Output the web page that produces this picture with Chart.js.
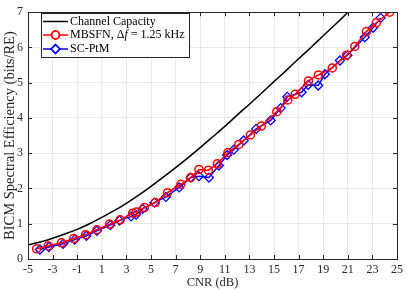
<!DOCTYPE html>
<html>
<head>
<meta charset="utf-8">
<script src="https://cdn.jsdelivr.net/npm/chart.js@4/dist/chart.umd.min.js"></script>
<style>
  html, body { margin: 0; padding: 0; background: #fff; }
  #wrap { width: 407px; height: 292px; }
</style>
</head>
<body>
<div id="wrap"><canvas id="c" width="407" height="292"></canvas></div>
<script>
// channel capacity curve
const capX = [-5, -4, -3, -2, -1, 0, 1, 2, 3, 4, 5, 6, 7, 8, 9, 10, 11, 12, 13, 14, 15, 16, 17, 18, 19, 20, 21, 22];
const capY = [0.40, 0.48, 0.59, 0.71, 0.84, 1.00, 1.18, 1.37, 1.58, 1.81, 2.06, 2.32, 2.59, 2.87, 3.16, 3.46, 3.76, 4.08, 4.39, 4.71, 5.03, 5.35, 5.68, 6.00, 6.33, 6.66, 6.99, 7.32];

// MBSFN, delta f = 1.25 kHz
const mbsfnX = [-4.3, -3.36, -2.28, -1.28, -0.31, 0.6, 1.63, 2.49, 3.51, 3.81, 4.46, 5.35, 6.34, 7.42, 8.23, 8.9, 9.66, 10.39, 11.25, 12.14, 13.08, 13.97, 15.23, 16.12, 16.72, 17.8, 18.61, 19.74, 20.89, 21.57, 22.51, 23.32, 24.4];
const mbsfnY = [0.29, 0.37, 0.46, 0.58, 0.69, 0.83, 0.99, 1.11, 1.30, 1.33, 1.46, 1.60, 1.88, 2.12, 2.31, 2.54, 2.52, 2.70, 3.02, 3.25, 3.52, 3.77, 4.18, 4.51, 4.67, 5.05, 5.22, 5.42, 5.78, 6.03, 6.45, 6.70, 7.00];

// SC-PtM
const scptmX = [-4.03, -3.3, -2.15, -1.2, -0.25, 0.6, 1.69, 2.44, 3.38, 3.79, 4.32, 5.27, 6.21, 7.29, 8.23, 8.9, 9.71, 10.52, 11.19, 11.73, 12.54, 13.55, 14.73, 15.54, 16.08, 17.24, 17.78, 18.59, 19.14, 20.36, 20.97, 22.38, 23.05, 23.67];
const scptmY = [0.27, 0.34, 0.43, 0.55, 0.66, 0.80, 0.96, 1.09, 1.21, 1.26, 1.42, 1.60, 1.76, 2.03, 2.31, 2.35, 2.31, 2.65, 2.95, 3.10, 3.36, 3.69, 3.93, 4.28, 4.60, 4.73, 4.94, 4.92, 5.24, 5.63, 5.78, 6.29, 6.56, 6.84];

const xTicks = [-5, -3, -1, 1, 3, 5, 7, 9, 11, 13, 15, 17, 19, 21, 23, 25];
const yTicks = [0, 1, 2, 3, 4, 5, 6, 7];

const FONT = "'Liberation Serif', 'DejaVu Serif', serif";
const AXIS = '#262626';

function pts(xs, ys) { return xs.map((x, i) => ({ x: x, y: ys[i] })); }

// inward ticks on all four sides + box
const boxTicks = {
  id: 'boxTicks',
  afterDatasetsDraw(chart) {
    const ctx = chart.ctx, a = chart.chartArea;
    const xs = chart.scales.x, ys = chart.scales.y;
    ctx.save();
    ctx.strokeStyle = AXIS;
    ctx.lineWidth = 1;
    ctx.beginPath();
    xTicks.forEach(v => {
      const p = Math.round(xs.getPixelForValue(v)) + 0.5;
      ctx.moveTo(p, a.bottom); ctx.lineTo(p, a.bottom - 4);
      ctx.moveTo(p, a.top); ctx.lineTo(p, a.top + 4);
    });
    yTicks.forEach(v => {
      const p = Math.round(ys.getPixelForValue(v)) + 0.5;
      ctx.moveTo(a.left, p); ctx.lineTo(a.left + 4, p);
      ctx.moveTo(a.right, p); ctx.lineTo(a.right - 4, p);
    });
    ctx.stroke();
    ctx.strokeRect(Math.round(a.left) + 0.5, Math.round(a.top) + 0.5,
      Math.round(a.right - a.left), Math.round(a.bottom - a.top));
    ctx.restore();
  }
};

// legend box, MATLAB style
const legendBox = {
  id: 'legendBox',
  afterDraw(chart) {
    const ctx = chart.ctx;
    const L = 41, T = 13, W = 148, H = 44;
    ctx.save();
    ctx.fillStyle = '#fff';
    ctx.fillRect(L, T, W, H);
    ctx.strokeStyle = AXIS;
    ctx.lineWidth = 1;
    ctx.strokeRect(L + 0.5, T + 0.5, W, H);
    const rows = [21.5, 35, 49];
    chart.data.datasets.forEach((ds, i) => {
      const y = rows[i];
      ctx.strokeStyle = ds.borderColor;
      ctx.lineWidth = ds.borderWidth;
      ctx.beginPath(); ctx.moveTo(43, y); ctx.lineTo(68, y); ctx.stroke();
      if (ds.pointRadius > 0) {
        ctx.fillStyle = '#fff';
        Chart.helpers.drawPoint(ctx, {
          pointStyle: ds.pointStyle, radius: ds.pointRadius, borderWidth: ds.pointBorderWidth
        }, 55.5, y);
        ctx.lineWidth = ds.pointBorderWidth;
        ctx.stroke();
      }
      ctx.fillStyle = '#000';
      ctx.textBaseline = 'middle';
      ctx.font = '12px ' + FONT;
      let tx = 70;
      if (i === 1) {
        const a = 'MBSFN, \u0394';
        ctx.fillText(a, tx, y); tx += ctx.measureText(a).width;
        ctx.font = 'italic 12px ' + FONT;
        ctx.fillText('f', tx, y); tx += ctx.measureText('f').width;
        ctx.font = '12px ' + FONT;
        ctx.fillText(' = 1.25 kHz', tx, y);
      } else {
        ctx.fillText(ds.label, tx, y);
      }
    });
    ctx.restore();
  }
};

new Chart(document.getElementById('c'), {
  type: 'scatter',
  data: {
    datasets: [
      {
        label: 'Channel Capacity',
        data: pts(capX, capY),
        showLine: true,
        borderColor: '#000',
        borderWidth: 1.5,
        pointRadius: 0,
        tension: 0.3
      },
      {
        label: 'MBSFN, \u0394f = 1.25 kHz',
        data: pts(mbsfnX, mbsfnY),
        showLine: true,
        borderColor: '#ff0000',
        backgroundColor: 'rgba(0,0,0,0)',
        borderWidth: 1.5,
        pointStyle: 'circle',
        pointRadius: 4,
        pointBorderWidth: 1.5,
        pointBackgroundColor: 'rgba(0,0,0,0)'
      },
      {
        label: 'SC-PtM',
        data: pts(scptmX, scptmY),
        showLine: true,
        borderColor: '#0000ff',
        backgroundColor: 'rgba(0,0,0,0)',
        borderWidth: 1.5,
        pointStyle: 'rectRot',
        pointRadius: 4.5,
        pointBorderWidth: 1.3,
        pointBackgroundColor: 'rgba(0,0,0,0)'
      }
    ]
  },
  options: {
    responsive: false,
    animation: false,
    layout: { padding: { left: 0, top: 4, right: 8, bottom: 0 } },
    plugins: { legend: { display: false }, tooltip: { enabled: false } },
    scales: {
      x: {
        type: 'linear',
        min: -5, max: 25,
        afterBuildTicks(s) { s.ticks = xTicks.map(v => ({ value: v })); },
        afterFit(s) { s.height = 33; },
        grid: { color: '#e8e8e8', drawTicks: false },
        border: { display: false },
        ticks: { color: AXIS, font: { family: FONT, size: 12 }, padding: 4, maxRotation: 0,
          callback: v => String(v) },
        title: { display: true, text: 'CNR (dB)', color: AXIS, font: { family: FONT, size: 12.5 }, padding: { top: 0, bottom: 2 } }
      },
      y: {
        type: 'linear',
        min: 0, max: 7,
        afterBuildTicks(s) { s.ticks = yTicks.map(v => ({ value: v })); },
        afterFit(s) { s.width = 28; },
        grid: { color: '#e8e8e8', drawTicks: false },
        border: { display: false },
        ticks: { color: AXIS, font: { family: FONT, size: 12 }, padding: 5 },
        title: { display: true, text: 'BICM Spectral Efficiency (bits/RE)', color: AXIS, font: { family: FONT, size: 14.5 }, padding: { top: 1, bottom: 0 } }
      }
    }
  },
  plugins: [boxTicks, legendBox]
});
</script>
</body>
</html>
